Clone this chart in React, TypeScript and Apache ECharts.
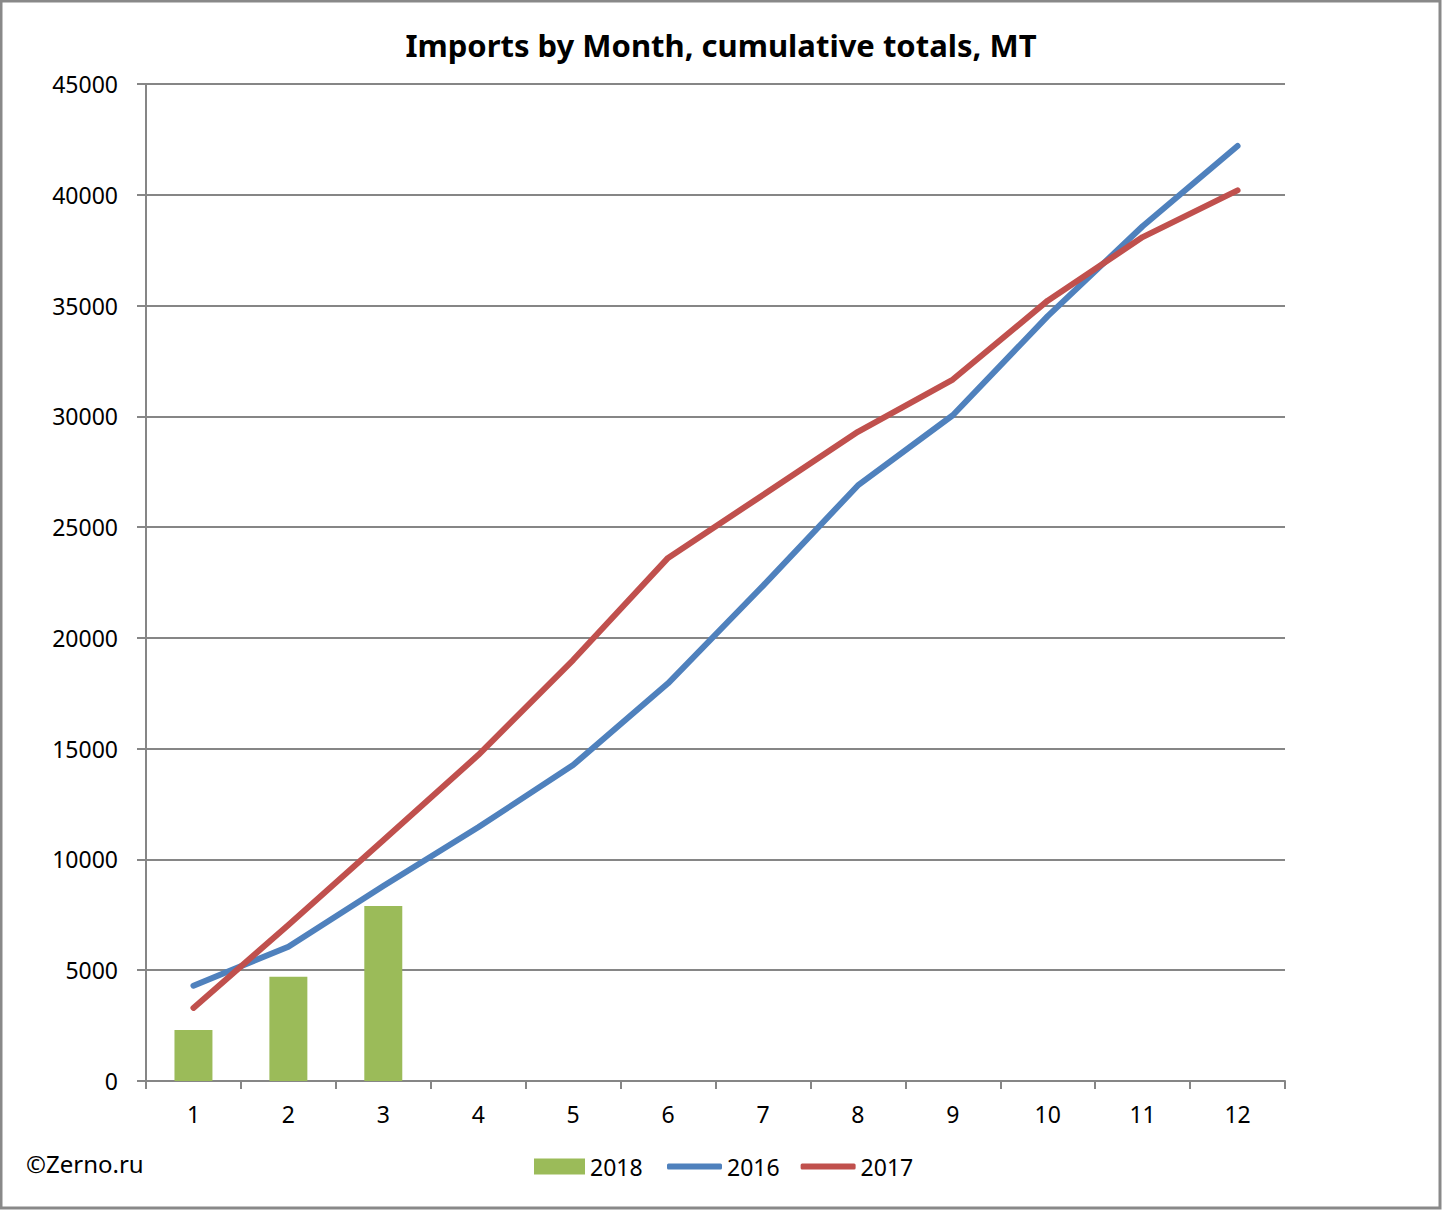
import { useRef, useEffect } from "react";
import * as echarts from "echarts";

const months = ["1", "2", "3", "4", "5", "6", "7", "8", "9", "10", "11", "12"];
const imports2018 = [2300, 4700, 7900, null, null, null, null, null, null, null, null, null];
const imports2016 = [4300, 6060, 8800, 11450, 14260, 17950, 22350, 26880, 30050, 34520, 38580, 42200];
const imports2017 = [3300, 7040, 10870, 14710, 19000, 23610, 26450, 29300, 31660, 35220, 38090, 40200];

const GRID = "#868686";
const FONT = "'Noto Sans', 'Open Sans', sans-serif";

export default function App() {
  const chartRef = useRef<HTMLDivElement>(null);

  useEffect(() => {
    if (!chartRef.current) return;
    const chart = echarts.init(chartRef.current, null, { renderer: "svg" });

    const legendText = { fontSize: 23, color: "#000", fontFamily: FONT };

    chart.setOption({
      animation: false,
      backgroundColor: "#ffffff",
      textStyle: { fontFamily: FONT },
      title: {
        text: "Imports by Month, cumulative totals, MT",
        left: "center",
        top: 24,
        textStyle: { fontSize: 31, fontWeight: "bold", color: "#000", fontFamily: FONT },
      },
      grid: { left: 146, right: 157, top: 84, bottom: 129, containLabel: false },
      legend: [
        {
          left: 534,
          top: 1155,
          padding: 0,
          itemWidth: 51,
          itemHeight: 16,
          itemGap: 22,
          icon: "rect",
          textStyle: legendText,
          data: ["2018"],
        },
        {
          left: 667,
          top: 1155,
          padding: 0,
          itemWidth: 55,
          itemHeight: 6,
          itemGap: 21,
          icon: "roundRect",
          textStyle: legendText,
          data: ["2016", "2017"],
        },
      ],
      xAxis: {
        type: "category",
        data: months,
        axisLine: { lineStyle: { color: GRID, width: 2 } },
        axisTick: { show: true, length: 8, lineStyle: { color: GRID, width: 2 } },
        axisLabel: { fontSize: 23, color: "#000", margin: 21, fontFamily: FONT },
      },
      yAxis: {
        type: "value",
        min: 0,
        max: 45000,
        interval: 5000,
        axisLine: { show: true, lineStyle: { color: GRID, width: 2 } },
        axisTick: { show: true, length: 9, lineStyle: { color: GRID, width: 2 } },
        splitLine: { lineStyle: { color: GRID, width: 2 } },
        axisLabel: {
          fontSize: 23,
          color: "#000",
          margin: 28,
          fontFamily: FONT,
          formatter: (v: number) => String(v),
        },
      },
      series: [
        {
          name: "2018",
          type: "bar",
          data: imports2018,
          barWidth: "40%",
          itemStyle: { color: "#9BBB59" },
          z: 1,
        },
        {
          name: "2016",
          type: "line",
          data: imports2016,
          symbol: "none",
          lineStyle: { color: "#4F81BD", width: 6, cap: "round", join: "round" },
          itemStyle: { color: "#4F81BD" },
          z: 3,
        },
        {
          name: "2017",
          type: "line",
          data: imports2017,
          symbol: "none",
          lineStyle: { color: "#C0504D", width: 6, cap: "round", join: "round" },
          itemStyle: { color: "#C0504D" },
          z: 4,
        },
      ],
      graphic: [
        {
          type: "text",
          left: 26,
          top: 1151,
          style: { text: "©Zerno.ru", fill: "#000", font: `24px ${FONT}` },
        },
        {
          type: "rect",
          shape: { x: 1, y: 1, width: 1439, height: 1207 },
          style: { fill: "none", stroke: "#898989", lineWidth: 3 },
          silent: true,
        },
      ],
    });

    return () => {
      chart.dispose();
    };
  }, []);

  return (
    <div
      ref={chartRef}
      style={{ position: "fixed", left: 0, top: 0, width: 1442, height: 1210 }}
    />
  );
}
